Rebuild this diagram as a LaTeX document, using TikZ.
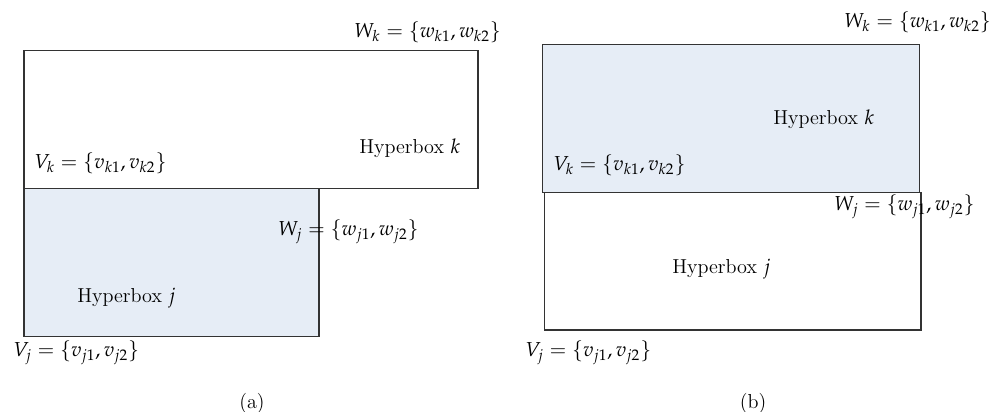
\documentclass[tikz,border=0pt]{standalone}
\usepackage{mathpazo}
\usepackage{xcolor}
\usetikzlibrary{positioning}
\definecolor{boxfill}{HTML}{E6EDF6}

\begin{document}
\begin{tikzpicture}[x=0.02cm, y=-0.02cm, font=\fontsize{11.5}{14}\selectfont,
  hbox/.style={draw=black!80, line width=0.8pt},
  lab/.style={inner sep=0pt, anchor=west}]
\useasboundingbox (0,0) rectangle (990,412);
% ---- panel (a): box j overlaps lower part ----
\draw[hbox] (24,50.5) rectangle (478,188.7);
\draw[hbox, fill=boxfill] (24,188.7) rectangle (319,336.7);
\node[lab] (wka) at (354,32) {$W_k = \{w_{k1}, w_{k2}\}$};
\node[lab] (hka) at (359,148) {Hyperbox $k$};
\node[lab] (vka) at (34,163) {$V_k = \{v_{k1}, v_{k2}\}$};
\node[lab] (wja) at (278,232) {$W_j = \{w_{j1}, w_{j2}\}$};
\node[lab] (hja) at (77,298) {Hyperbox $j$};
\node[lab] (vja) at (13,353) {$V_j = \{v_{j1}, v_{j2}\}$};
\node (capa) at (252,403) {(a)};
% ---- panel (b): box k on top of box j ----
\draw[hbox, fill=boxfill] (542.7,44.3) rectangle (919.7,192.7);
\draw[hbox] (544.3,192.7) rectangle (921,330);
\node[lab] (wkb) at (844,22) {$W_k = \{w_{k1}, w_{k2}\}$};
\node[lab] (hkb) at (773,119) {Hyperbox $k$};
\node[lab] (vkb) at (553,165) {$V_k = \{v_{k1}, v_{k2}\}$};
\node[lab] (wjb) at (834,207) {$W_j = \{w_{j1}, w_{j2}\}$};
\node[lab] (hjb) at (672,269) {Hyperbox $j$};
\node[lab] (vjb) at (525,353) {$V_j = \{v_{j1}, v_{j2}\}$};
\node (capb) at (753,403) {(b)};
\end{tikzpicture}
\end{document}
